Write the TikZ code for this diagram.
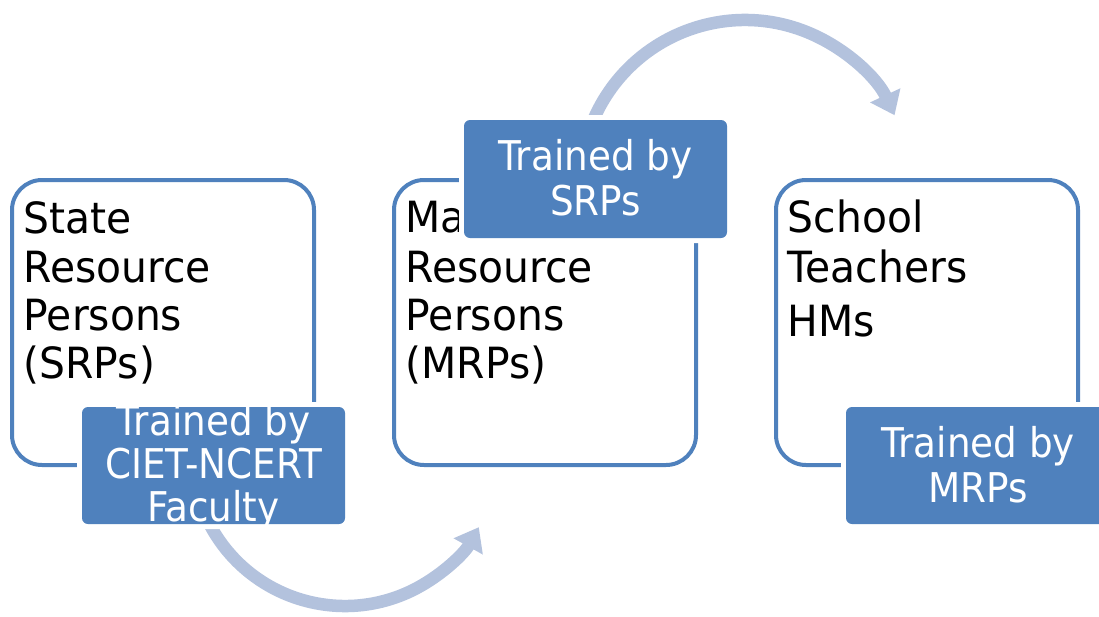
\documentclass[tikz,border=0pt]{standalone}
\usepackage{fontspec}
\setmainfont{DejaVu Sans}
\newfontfamily\boxfont{DejaVu Sans}[FakeStretch=0.95]
\newfontfamily\tagfont{DejaVu Sans}[FakeStretch=0.91]
\usetikzlibrary{arrows.meta}
\definecolor{accent}{HTML}{4F81BD}
\definecolor{arrowc}{HTML}{B3C2DD}
\begin{document}
\begin{tikzpicture}[x=1pt,y=-1pt,
  outline/.style={draw=accent, line width=4pt, rounded corners=30pt, fill=white,
    inner sep=0pt, minimum width=302pt, minimum height=285pt},
  tag/.style={fill=accent, rounded corners=6pt, inner sep=0pt,
    minimum width=263pt, minimum height=117pt,
    preaction={draw=white, line width=10pt}},
  lt/.style={font=\boxfont\fontsize{43pt}{48pt}\selectfont, inner sep=0pt, anchor=base west},
  wt/.style={font=\tagfont\fontsize{41pt}{44pt}\selectfont, text=white, inner sep=0pt, anchor=base},
  flow/.style={draw=arrowc, line width=12.5pt, -{Triangle[length=22pt,width=32pt]}}]
\useasboundingbox (0,0) rectangle (1099,616);
% curved arrows
\coordinate (c1) at (345,453);
\coordinate (c2) at (745,185);
\draw[flow] (c1) ++(152:153) arc[start angle=152, end angle=29, radius=153];
\draw[flow] (c2) ++(203:165) arc[start angle=203, end angle=335, radius=165];
% outline boxes
\node[outline] (b1) at (163,322.5) {};
\node[outline] (b2) at (545,322.5) {};
\node[outline] (b3) at (927,322.5) {};
% box texts
\node[lt] (s1) at (23.5,233) {State};
\node[lt] (s2) at (23.5,282) {Resource};
\node[lt] (s3) at (23.5,330) {Persons};
\node[lt] (s4) at (23.5,378) {(SRPs)};
\node[lt] (m1) at (405.5,232) {Master};
\node[lt] (m2) at (405.5,282) {Resource};
\node[lt] (m3) at (405.5,330) {Persons};
\node[lt] (m4) at (405.5,378) {(MRPs)};
\node[lt] (h1) at (787.5,232) {School};
\node[lt] (h2) at (787.5,282) {Teachers};
\node[lt] (h3) at (787.5,336) {HMs};
% tags
\node[tag] (t1) at (213.5,465.5) {};
\node[tag, minimum height=118pt] (t2) at (595.5,179) {};
\node[tag, minimum width=264pt] (t3) at (978,465.5) {};
\begin{scope}
  \clip[rounded corners=6pt] (t1.south west) rectangle (t1.north east);
  \node[wt] (t1a) at (213.5,435) {Trained by};
  \node[wt] (t1b) at (213.5,478) {CIET-NCERT};
  \node[wt] (t1c) at (213.5,521) {Faculty};
\end{scope}
\node[wt] (t2a) at (595.5,170) {Trained by};
\node[wt] (t2b) at (595.5,215) {SRPs};
\node[wt] (t3a) at (978,457) {Trained by};
\node[wt] (t3b) at (978,502) {MRPs};
\end{tikzpicture}
\end{document}
